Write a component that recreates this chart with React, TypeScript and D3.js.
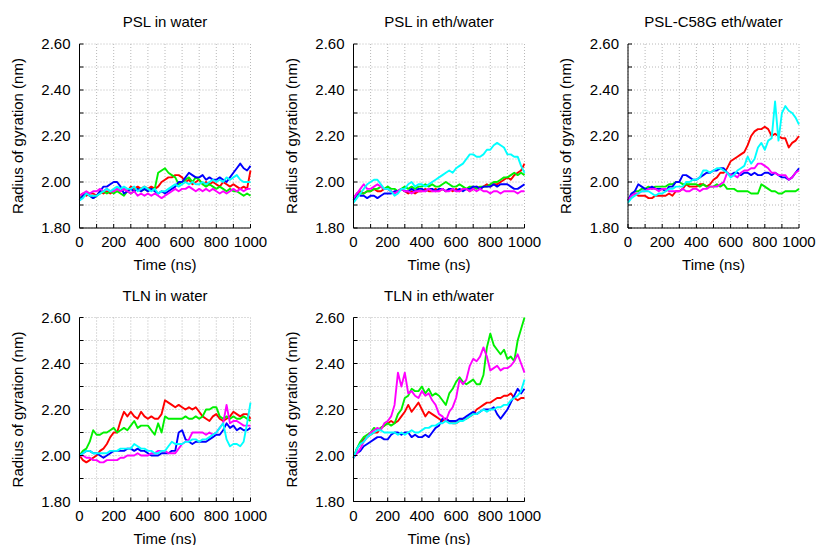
import React from "react";
import * as d3 from "d3";

const TIME: number[] = d3.range(0, 1001, 20);
const X_TICKS = [0, 200, 400, 600, 800, 1000];
const Y_TICKS = [1.8, 2.0, 2.2, 2.4, 2.6];
const SERIES_COLORS = ["#ff0000", "#00f000", "#0000ff", "#ff00ff", "#00ffff"];
const TITLES = ["PSL in water", "PSL in eth/water", "PSL-C58G eth/water", "TLN in water", "TLN in eth/water"];

// series order: red, green, blue, magenta, cyan
const pslWaterRed = [1.94, 1.95,1.94,1.95,1.95,1.94, 1.96,1.95,1.96,1.95,1.96, 1.97,1.96,1.97,1.96,1.98, 1.97,1.98,1.97,1.98,1.97, 1.98,1.97,1.98,2.00,2.01, 2.02,2.02,2.03,2.03,2.02, 2.00,2.01,1.99,2.00,2.01, 1.99,2.00,1.99,2.00,1.99, 1.98,2.00,1.99,1.98,1.99, 1.98,1.97,1.98,1.97,2.05];
const pslWaterGreen = [1.93, 1.94,1.95,1.94,1.93,1.94, 1.95,1.96,1.95,1.96,1.95, 1.96,1.95,1.94,1.96,1.95, 1.96,1.97,1.96,1.97,1.96, 1.97,1.97,2.04,2.05,2.06, 2.04,2.03,2.02,1.99,2.00, 2.01,2.02,2.00,2.02,2.01, 1.99,1.98,1.99,1.98,1.97, 1.98,1.97,1.96,1.97,1.96, 1.96,1.95,1.94,1.95,1.94];
const pslWaterBlue = [1.92, 1.94,1.95,1.94,1.93,1.94, 1.96,1.98,1.98,1.99,2.00, 2.00,1.98,1.95,1.96,1.97, 1.96,1.97,1.96,1.97,1.96, 1.97,1.96,1.95,1.96,1.95, 1.96,1.97,1.98,2.00,2.00, 2.02,2.04,2.03,2.02,2.02, 2.03,2.01,2.02,2.01,2.01, 2.02,2.01,2.00,2.02,2.04, 2.06,2.08,2.06,2.05,2.07];
const pslWaterMagenta = [1.94, 1.95,1.96,1.95,1.96,1.96, 1.97,1.96,1.97,1.96,1.96, 1.97,1.96,1.97,1.96,1.95, 1.96,1.94,1.95,1.94,1.95, 1.94,1.95,1.94,1.93,1.94, 1.95,1.96,1.97,1.96,1.97, 1.97,1.98,1.97,1.96,1.97, 1.96,1.97,1.96,1.97,1.96, 1.95,1.96,1.95,1.96,1.97, 1.96,1.97,1.96,1.97,1.97];
const pslWaterCyan = [1.92, 1.93,1.95,1.94,1.94,1.94, 1.95,1.96,1.97,1.96,1.97, 1.98,1.97,1.98,1.97,1.97, 1.98,1.96,1.97,1.98,1.97, 1.96,1.97,1.95,1.96,1.96, 1.97,1.98,1.99,1.98,1.99, 2.00,1.99,2.00,1.99,1.99, 2.00,1.99,2.00,2.01,2.00, 2.01,2.00,2.02,2.01,2.02, 2.03,2.01,2.00,2.00,2.00];

const pslEthRed = [1.93, 1.95,1.96,1.95,1.96,1.96, 1.97,1.96,1.96,1.97,1.97, 1.96,1.95,1.96,1.97,1.96, 1.95,1.96,1.95,1.96,1.96, 1.97,1.96,1.96,1.97,1.96, 1.97,1.96,1.97,1.96,1.97, 1.96,1.97,1.97,1.96,1.97, 1.98,1.97,1.98,1.99,1.98, 1.99,1.99,2.00,2.01,2.02, 2.01,2.03,2.04,2.05,2.08];
const pslEthGreen = [1.92, 1.94,1.95,1.95,1.96,1.96, 1.97,1.97,1.98,1.97,1.98, 1.97,1.97,1.96,1.97,1.98, 1.97,1.98,1.97,1.98,1.98, 1.99,1.98,1.99,1.98,1.98, 1.99,2.00,1.99,1.98,1.98, 1.99,1.98,1.97,1.98,1.98, 1.97,1.98,1.98,1.98,1.99, 2.00,2.00,2.01,2.02,2.02, 2.03,2.04,2.03,2.04,2.03];
const pslEthBlue = [1.92, 1.95,1.94,1.94,1.93,1.94, 1.94,1.93,1.94,1.95,1.95, 1.95,1.96,1.96,1.97,1.96, 1.96,1.97,1.96,1.97,1.97, 1.96,1.97,1.97,1.96,1.97, 1.97,1.96,1.97,1.97,1.96, 1.97,1.96,1.97,1.97,1.98, 1.98,1.97,1.98,1.98,1.98, 1.99,1.98,1.99,1.99,1.99, 1.98,1.97,1.97,1.98,1.99];
const pslEthMagenta = [1.93, 1.95,1.97,1.99,1.97,1.97, 1.98,1.99,1.98,1.97,1.97, 1.96,1.95,1.96,1.97,1.96, 1.96,1.95,1.96,1.96,1.96, 1.96,1.97,1.96,1.96,1.96, 1.97,1.96,1.96,1.97,1.96, 1.96,1.97,1.97,1.96,1.97, 1.96,1.97,1.96,1.96,1.95, 1.96,1.96,1.95,1.96,1.96, 1.96,1.96,1.95,1.96,1.96];
const pslEthCyan = [1.91, 1.93,1.95,1.97,1.99,2.00, 2.01,2.01,1.99,1.97,1.97, 1.96,1.94,1.95,1.97,1.97, 1.99,2.00,1.98,1.99,1.99, 1.98,1.99,2.00,2.01,2.02, 2.03,2.04,2.05,2.04,2.06, 2.07,2.08,2.10,2.12,2.12, 2.11,2.11,2.12,2.14,2.14, 2.16,2.17,2.16,2.15,2.12, 2.12,2.11,2.11,2.07,2.04];

const c58gRed = [1.92, 1.94,1.95,1.94,1.94,1.94, 1.93,1.93,1.94,1.94,1.94, 1.94,1.95,1.94,1.96,1.96, 1.97,1.99,1.98,1.98,1.98, 1.99,1.99,1.98,1.99,2.01, 2.02,2.04,2.04,2.06,2.09, 2.10,2.11,2.12,2.13,2.16, 2.20,2.22,2.23,2.23,2.24, 2.23,2.20,2.21,2.20,2.19, 2.19,2.15,2.17,2.18,2.20];
const c58gGreen = [1.92, 1.94,1.96,1.96,1.97,1.97, 1.98,1.97,1.98,1.98,1.98, 1.98,1.99,1.99,2.00,2.00, 1.99,1.99,1.99,1.99,1.99, 1.98,1.99,1.98,1.98,1.98, 1.99,1.98,1.99,1.97,1.97, 1.97,1.96,1.96,1.96,1.96, 1.95,1.95,1.95,1.99,1.98, 1.97,1.96,1.96,1.95,1.95, 1.96,1.96,1.96,1.96,1.97];
const c58gBlue = [1.92, 1.95,1.96,1.99,1.98,1.97, 1.97,1.98,1.97,1.97,1.97, 1.96,1.98,1.98,2.00,2.00, 2.03,2.03,2.02,2.01,2.01, 2.02,2.03,2.04,2.04,2.05, 2.05,2.06,2.06,2.04,2.03, 2.04,2.04,2.03,2.04,2.04, 2.03,2.04,2.03,2.03,2.04, 2.04,2.03,2.04,2.03,2.02, 2.02,2.01,2.02,2.04,2.06];
const c58gMagenta = [1.92, 1.94,1.95,1.95,1.96,1.96, 1.97,1.97,1.97,1.96,1.97, 1.97,1.96,1.96,1.96,1.96, 1.97,1.96,1.96,1.97,1.97, 1.96,1.97,1.97,1.98,1.98, 1.98,1.99,2.00,2.04,2.03, 2.03,2.02,2.04,2.05,2.05, 2.06,2.06,2.08,2.08,2.07, 2.06,2.04,2.04,2.03,2.03, 2.03,2.01,2.02,2.04,2.05];
const c58gCyan = [1.91, 1.93,1.94,1.95,1.96,1.96, 1.96,1.95,1.94,1.95,1.95, 1.96,1.97,1.97,1.98,1.98, 1.98,2.00,2.00,2.01,2.01, 2.02,2.05,2.05,2.04,2.05, 2.06,2.06,2.05,2.04,2.02, 2.03,2.05,2.06,2.07,2.11, 2.08,2.10,2.15,2.17,2.14, 2.18,2.19,2.35,2.18,2.30, 2.33,2.31,2.30,2.28,2.25];

const tlnWaterRed = [2.00, 1.98,1.97,1.98,1.99,2.00, 2.02,2.03,2.05,2.08,2.10, 2.10,2.15,2.19,2.17,2.19, 2.17,2.16,2.19,2.17,2.16, 2.17,2.16,2.16,2.18,2.24, 2.23,2.22,2.21,2.22,2.21, 2.20,2.21,2.20,2.21,2.19, 2.17,2.16,2.15,2.17,2.18, 2.16,2.15,2.16,2.17,2.19, 2.18,2.17,2.18,2.18,2.16];
const tlnWaterGreen = [2.00, 2.02,2.03,2.06,2.11,2.09, 2.09,2.10,2.10,2.11,2.12, 2.10,2.11,2.12,2.11,2.13, 2.15,2.12,2.13,2.13,2.13, 2.11,2.09,2.14,2.10,2.17, 2.16,2.16,2.16,2.16,2.16, 2.17,2.16,2.16,2.17,2.16, 2.17,2.20,2.20,2.21,2.21, 2.17,2.16,2.17,2.16,2.17, 2.16,2.16,2.17,2.16,2.15];
const tlnWaterBlue = [2.00, 2.01,2.02,2.02,2.01,2.01, 2.00,1.99,2.00,2.01,2.02, 2.02,2.02,2.02,2.03,2.03, 2.02,2.03,2.02,2.02,2.01, 2.00,2.00,2.00,2.01,2.01, 2.01,2.02,2.02,2.10,2.11, 2.07,2.06,2.05,2.06,2.06, 2.06,2.06,2.07,2.08,2.09, 2.09,2.11,2.14,2.12,2.13, 2.11,2.12,2.11,2.11,2.12];
const tlnWaterMagenta = [2.00, 2.00,1.99,1.99,1.98,1.98, 1.97,1.97,1.98,1.98,1.98, 1.98,1.99,1.99,2.00,2.00, 2.00,2.01,2.00,2.00,2.00, 2.01,2.01,2.02,2.02,2.02, 2.01,2.01,2.01,2.03,2.05, 2.06,2.07,2.10,2.10,2.10, 2.10,2.09,2.10,2.09,2.10, 2.12,2.14,2.22,2.14,2.15, 2.15,2.14,2.13,2.13,2.13];
const tlnWaterCyan = [2.00, 2.01,2.02,2.02,2.01,2.01, 2.01,2.01,2.01,2.02,2.02, 2.02,2.03,2.03,2.03,2.03, 2.05,2.04,2.03,2.03,2.02, 2.02,2.01,2.01,2.02,2.02, 2.04,2.06,2.05,2.05,2.05, 2.06,2.06,2.07,2.07,2.06, 2.07,2.07,2.08,2.09,2.10, 2.12,2.14,2.07,2.04,2.05, 2.05,2.04,2.06,2.14,2.23];

const tlnEthRed = [1.99, 2.03,2.05,2.07,2.08,2.09, 2.10,2.10,2.12,2.13,2.14, 2.15,2.14,2.15,2.17,2.19, 2.22,2.19,2.21,2.23,2.20, 2.17,2.19,2.18,2.17,2.16, 2.15,2.16,2.15,2.14,2.14, 2.15,2.16,2.16,2.17,2.18, 2.20,2.21,2.22,2.23,2.23, 2.24,2.25,2.25,2.26,2.26, 2.27,2.25,2.24,2.25,2.25];
const tlnEthGreen = [1.99, 2.03,2.06,2.08,2.09,2.10, 2.12,2.11,2.12,2.13,2.14, 2.13,2.14,2.18,2.20,2.25, 2.26,2.29,2.28,2.28,2.30, 2.27,2.29,2.26,2.27,2.26, 2.24,2.22,2.27,2.29,2.32, 2.34,2.32,2.31,2.32,2.33, 2.31,2.31,2.35,2.47,2.53, 2.48,2.46,2.44,2.46,2.42, 2.43,2.41,2.50,2.55,2.60];
const tlnEthBlue = [1.99, 2.01,2.02,2.04,2.05,2.06, 2.07,2.08,2.08,2.07,2.07, 2.09,2.10,2.10,2.09,2.10, 2.10,2.08,2.09,2.08,2.08, 2.09,2.08,2.10,2.12,2.13, 2.16,2.16,2.15,2.15,2.15, 2.16,2.16,2.17,2.18,2.19, 2.18,2.19,2.20,2.20,2.20, 2.21,2.18,2.16,2.18,2.20, 2.23,2.26,2.29,2.27,2.29];
const tlnEthMagenta = [1.99, 2.01,2.03,2.06,2.08,2.10, 2.11,2.12,2.11,2.14,2.15, 2.17,2.22,2.36,2.30,2.36, 2.27,2.28,2.26,2.25,2.28, 2.26,2.27,2.24,2.22,2.18, 2.17,2.15,2.19,2.21,2.25, 2.33,2.31,2.33,2.39,2.42, 2.41,2.43,2.47,2.43,2.37, 2.38,2.39,2.37,2.38,2.38, 2.39,2.41,2.44,2.40,2.36];
const tlnEthCyan = [1.99, 2.03,2.05,2.06,2.08,2.09, 2.10,2.11,2.11,2.10,2.10, 2.10,2.10,2.09,2.10,2.09, 2.10,2.11,2.10,2.10,2.11, 2.12,2.12,2.13,2.13,2.14, 2.14,2.15,2.14,2.14,2.14, 2.15,2.15,2.16,2.17,2.18, 2.18,2.19,2.20,2.19,2.20, 2.20,2.21,2.21,2.22,2.22, 2.24,2.25,2.26,2.28,2.33];

const PANEL_SERIES: number[][][] = [
  [pslWaterRed, pslWaterGreen, pslWaterBlue, pslWaterMagenta, pslWaterCyan],
  [pslEthRed, pslEthGreen, pslEthBlue, pslEthMagenta, pslEthCyan],
  [c58gRed, c58gGreen, c58gBlue, c58gMagenta, c58gCyan],
  [tlnWaterRed, tlnWaterGreen, tlnWaterBlue, tlnWaterMagenta, tlnWaterCyan],
  [tlnEthRed, tlnEthGreen, tlnEthBlue, tlnEthMagenta, tlnEthCyan],
];

const W = 818;
const H = 545;
const PW = 171;
const PH = 184;
const LEFTS = [79.5, 353.5, 628];
const TOPS = [44, 317.5];
const FONT = "'Liberation Sans', Arial, Helvetica, sans-serif";

function Panel({ idx }: { idx: number }) {
  const col = idx % 3;
  const row = Math.floor(idx / 3);
  const left = LEFTS[col];
  const top = TOPS[row];
  const x = d3.scaleLinear().domain([0, 1000]).range([0, PW]);
  const y = d3.scaleLinear().domain([1.8, 2.6]).range([PH, 0]);
  const gridX = d3.range(0, 1001, 100);
  const gridY = d3.range(0, 9).map((i) => 1.8 + i * 0.1);
  const line = d3
    .line<number>()
    .x((_, i) => x(TIME[i]))
    .y((d) => y(d));
  return (
    <g transform={`translate(${left},${top})`}>
      <text x={PW / 2} y={-17} textAnchor="middle" fontSize={15} fontFamily={FONT}>
        {TITLES[idx]}
      </text>
      {gridX.map((g) => (
        <line key={"gx" + g} x1={x(g)} x2={x(g)} y1={0} y2={PH} stroke="#b8b8b8" strokeWidth={1} strokeDasharray="1,2" />
      ))}
      {gridY.map((g, i) => (
        <line key={"gy" + i} x1={0} x2={PW} y1={y(g)} y2={y(g)} stroke="#b8b8b8" strokeWidth={1} strokeDasharray="1,2" />
      ))}
      {PANEL_SERIES[idx].map((s, i) => (
        <path key={i} d={line(s) || ""} fill="none" stroke={SERIES_COLORS[i]} strokeWidth={1.9} strokeLinejoin="round" />
      ))}
      <line x1={0} x2={0} y1={0} y2={PH} stroke="#000" strokeWidth={1} />
      <line x1={0} x2={PW} y1={PH} y2={PH} stroke="#000" strokeWidth={1} />
      {gridX.map((g) => (
        <line key={"tx" + g} x1={x(g)} x2={x(g)} y1={PH} y2={PH - 4} stroke="#000" strokeWidth={1} />
      ))}
      {gridY.map((g, i) => (
        <line key={"ty" + i} x1={0} x2={4} y1={y(g)} y2={y(g)} stroke="#000" strokeWidth={1} />
      ))}
      {X_TICKS.map((t) => (
        <text key={"xl" + t} x={x(t)} y={PH + 19} textAnchor="middle" fontSize={15} fontFamily={FONT}>
          {t}
        </text>
      ))}
      {Y_TICKS.map((t) => (
        <text key={"yl" + t} x={-9} y={y(t) + 5} textAnchor="end" fontSize={15} fontFamily={FONT}>
          {t.toFixed(2)}
        </text>
      ))}
      <text x={PW / 2} y={PH + 42} textAnchor="middle" fontSize={15} fontFamily={FONT}>
        Time (ns)
      </text>
      <text
        transform={`translate(${-57},${PH / 2}) rotate(-90)`}
        textAnchor="middle"
        fontSize={15}
        fontFamily={FONT}
      >
        Radius of gyration (nm)
      </text>
    </g>
  );
}

export default function App() {
  return (
    <svg width={W} height={H} style={{ display: "block", position: "absolute", left: 0, top: 0, background: "#fff" }}>
      <rect width={W} height={H} fill="#fff" />
      {TITLES.map((_, i) => (
        <Panel key={i} idx={i} />
      ))}
    </svg>
  );
}
